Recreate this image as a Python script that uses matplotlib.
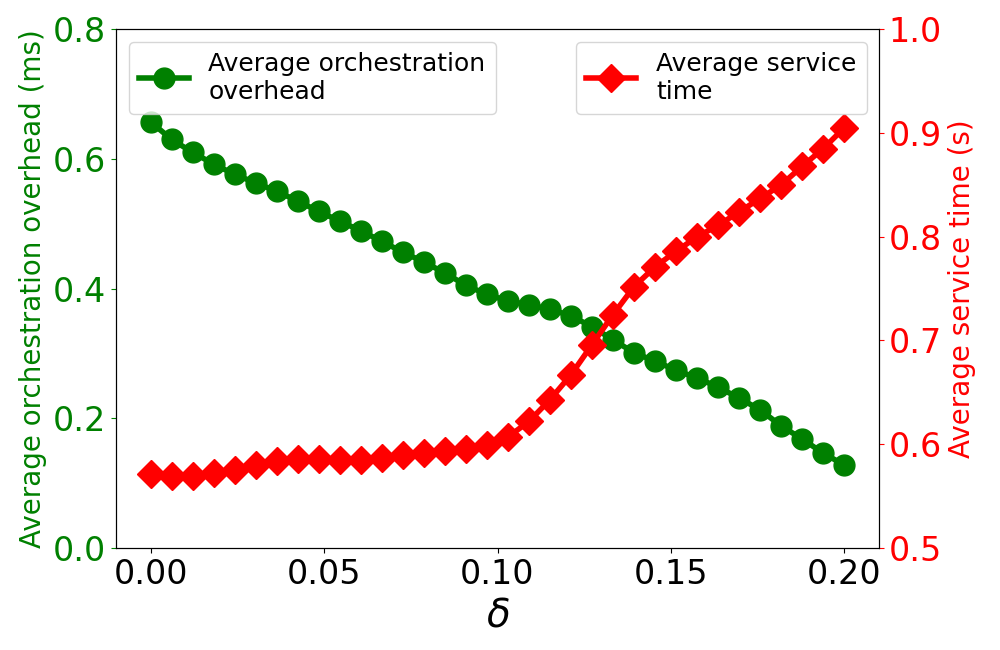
import matplotlib
matplotlib.use("Agg")
import matplotlib.pyplot as plt
import numpy as np

# delta values, 34 evenly spaced samples from 0 to 0.2
delta = np.linspace(0, 0.2, 34)

overhead_ms = [0.657, 0.630, 0.610, 0.592, 0.576, 0.563, 0.550, 0.535, 0.519, 0.504,
               0.489, 0.473, 0.456, 0.441, 0.424, 0.405, 0.391, 0.381, 0.375, 0.368,
               0.358, 0.341, 0.321, 0.301, 0.288, 0.274, 0.262, 0.248, 0.231, 0.213,
               0.188, 0.168, 0.146, 0.128]

service_s = [0.571, 0.569, 0.569, 0.572, 0.575, 0.580, 0.584, 0.586, 0.586, 0.585,
             0.585, 0.587, 0.590, 0.592, 0.593, 0.595, 0.599, 0.607, 0.622, 0.643,
             0.667, 0.696, 0.725, 0.752, 0.771, 0.786, 0.800, 0.811, 0.824, 0.837,
             0.850, 0.868, 0.885, 0.905]

fig = plt.figure(figsize=(10, 6.5), dpi=100)
ax1 = fig.add_axes([0.116, 0.157, 0.763, 0.798])
ax2 = ax1.twinx()

l1, = ax1.plot(delta, overhead_ms, color='green', marker='o', markersize=15,
               linewidth=4, label='Average orchestration\noverhead')
l2, = ax2.plot(delta, service_s, color='red', marker='D', markersize=14,
               linewidth=4, label='Average service\ntime')

ax1.set_ylim(0, 0.8)
ax2.set_ylim(0.5, 1.0)
ax1.set_yticks([0.0, 0.2, 0.4, 0.6, 0.8])
ax2.set_yticks([0.5, 0.6, 0.7, 0.8, 0.9, 1.0])
ax1.set_xticks([0.0, 0.05, 0.10, 0.15, 0.20])

ax1.set_xlabel(r'$\delta$', fontsize=28)
ax1.set_ylabel('Average orchestration overhead (ms)', color='green', fontsize=20)
ax2.set_ylabel('Average service time (s)', color='red', fontsize=20)

ax1.tick_params(axis='x', labelsize=24)
ax1.tick_params(axis='y', labelsize=24, colors='green')
ax2.tick_params(axis='y', labelsize=24, colors='red')

ax1.legend(handles=[l1], loc='upper left', fontsize=18)
ax2.legend(handles=[l2], loc='upper right', fontsize=18)

fig.savefig('out.png', dpi=100)
